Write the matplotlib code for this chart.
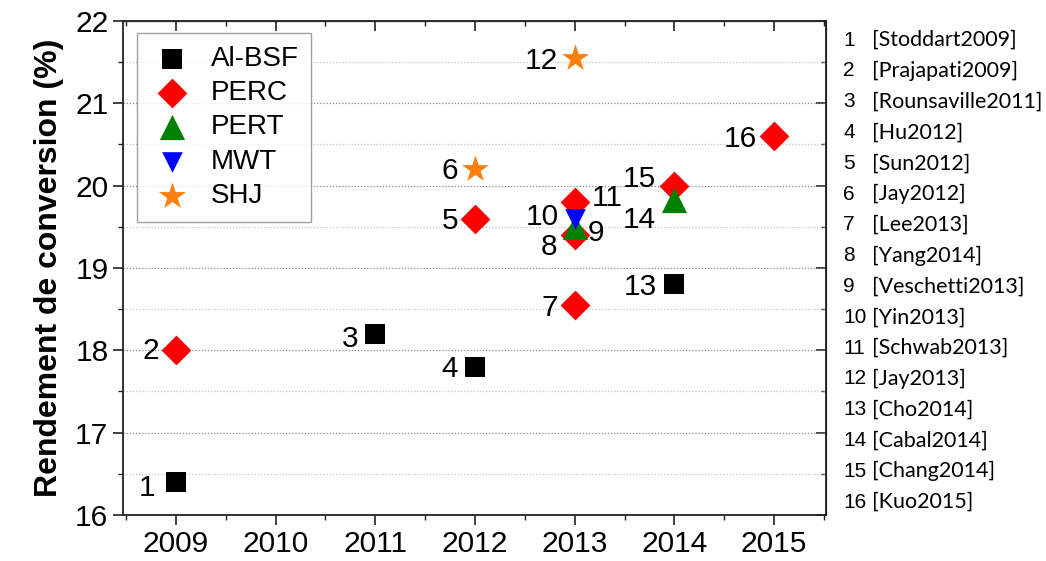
import matplotlib
matplotlib.use("Agg")
import matplotlib.pyplot as plt
from matplotlib.ticker import MultipleLocator

plt.rcParams['font.family'] = ['Liberation Sans', 'DejaVu Sans']

# Cell technologies and their reported efficiencies (%)
technologies = ["Al-BSF", "PERC", "PERT", "MWT", "SHJ"]
tech_styles = {
    "Al-BSF": dict(marker="s", color="black", s=190),
    "PERC": dict(marker="D", color="#ff0000", s=230),
    "PERT": dict(marker="^", color="#008000", s=330),
    "MWT": dict(marker="v", color="#0000ff", s=220),
    "SHJ": dict(marker="*", color="#ff7f0e", s=420),
}

ref_ids = list(range(1, 17))
ref_years = [2009, 2009, 2011, 2012, 2012, 2012, 2013, 2013,
             2013, 2013, 2013, 2013, 2014, 2014, 2014, 2015]
ref_eff = [16.4, 18.0, 18.2, 17.8, 19.6, 20.2, 18.55, 19.4,
           19.5, 19.6, 19.8, 21.55, 18.8, 19.83, 20.0, 20.6]
ref_tech = ["Al-BSF", "PERC", "Al-BSF", "Al-BSF", "PERC", "SHJ", "PERC", "PERC",
            "PERT", "MWT", "PERC", "SHJ", "Al-BSF", "PERT", "PERC", "PERC"]
ref_names = ["Stoddart2009", "Prajapati2009", "Rounsaville2011", "Hu2012",
             "Sun2012", "Jay2012", "Lee2013", "Yang2014", "Veschetti2013",
             "Yin2013", "Schwab2013", "Jay2013", "Cho2014", "Cabal2014",
             "Chang2014", "Kuo2015"]

# label offsets (pixels) relative to each point, with alignment
label_offsets = {
    1: (-20, -6, "right"), 2: (-17, -1, "right"), 3: (-17, -5, "right"),
    4: (-17, -2, "right"), 5: (-17, -2, "right"), 6: (-17, -2, "right"),
    7: (-17, -3, "right"), 8: (-17, -12, "right"), 9: (13, -6, "left"),
    10: (-16, 2, "right"), 11: (17, 4, "left"), 12: (-17, -3, "right"),
    13: (-17, -3, "right"), 14: (-18, -20, "right"), 15: (-18, 7, "right"),
    16: (-17, -3, "right"),
}

fig = plt.figure(figsize=(10.46, 5.61), dpi=100)
ax = fig.add_axes([0.1176, 0.082, 0.672, 0.8806])

draw_order = ["Al-BSF", "PERC", "PERT", "MWT", "SHJ"]
for tech in draw_order:
    xs = [x for x, t in zip(ref_years, ref_tech) if t == tech]
    ys = [y for y, t in zip(ref_eff, ref_tech) if t == tech]
    st = tech_styles[tech]
    ax.scatter(xs, ys, marker=st["marker"], c=st["color"], s=st["s"],
               linewidths=0, label=tech, zorder=3)

for i, x, y in zip(ref_ids, ref_years, ref_eff):
    dx, dy, ha = label_offsets[i]
    ax.annotate(str(i), (x, y), xytext=(dx, dy), textcoords="offset pixels",
                ha=ha, va="center", fontsize=21.5, zorder=4)

ax.set_xlim(2008.47, 2015.52)
ax.set_ylim(16, 22)
ax.xaxis.set_major_locator(MultipleLocator(1))
ax.xaxis.set_minor_locator(MultipleLocator(0.5))
ax.yaxis.set_major_locator(MultipleLocator(1))
ax.yaxis.set_minor_locator(MultipleLocator(0.5))
ax.xaxis.set_major_formatter(plt.FuncFormatter(lambda v, p: f"{int(round(v))}"))

ax.grid(axis="y", which="major", linestyle=(0, (1, 1.5)), color="#888888", linewidth=0.9)
ax.grid(axis="y", which="minor", linestyle=(0, (1, 1.5)), color="#c4c4c4", linewidth=0.9)
ax.set_axisbelow(True)

for sp in ax.spines.values():
    sp.set_linewidth(1.3)
    sp.set_color("#222222")

ax.tick_params(axis="both", which="major", labelsize=21.5, width=1.2, length=7, color="#222222")
ax.tick_params(axis="both", which="minor", width=1.0, length=3.5, color="#222222")
ax.tick_params(axis="y", which="both", direction="out", left=True, right=False)
ax.tick_params(axis="x", which="both", direction="out", bottom=True, top=False)

# mirrored inward ticks on the top and right edges
secx = ax.secondary_xaxis("top")
secx.xaxis.set_major_locator(MultipleLocator(1))
secx.xaxis.set_minor_locator(MultipleLocator(0.5))
secx.tick_params(which="both", direction="in", labeltop=False, color="#222222")
secx.tick_params(which="major", length=7, width=1.2)
secx.tick_params(which="minor", length=3.5, width=1.0)
secy = ax.secondary_yaxis("right")
secy.yaxis.set_major_locator(MultipleLocator(1))
secy.yaxis.set_minor_locator(MultipleLocator(0.5))
secy.tick_params(which="both", direction="in", labelright=False, color="#222222")
secy.tick_params(which="major", length=7, width=1.2)
secy.tick_params(which="minor", length=3.5, width=1.0)

ax.set_ylabel("Rendement de conversion (%)", fontsize=23, fontweight="bold", labelpad=8)

leg = ax.legend(loc="upper left", bbox_to_anchor=(0.02, 0.975), fontsize=20,
                frameon=True, fancybox=False, edgecolor="#888888",
                handletextpad=0.6, borderpad=0.45, labelspacing=0.3,
                scatterpoints=1, handlelength=1.6, borderaxespad=0)
leg.get_frame().set_linewidth(1.0)

# reference list on the right
row_top = 1 - 40 / 561
row_step = 30.8 / 561
for k, (i, name) in enumerate(zip(ref_ids, ref_names)):
    yy = row_top - k * row_step
    fig.text(843 / 1046, yy, str(i), fontsize=15, va="center", ha="left")
    fig.text(872 / 1046, yy, f"[{name}]", fontsize=15.5, va="center", ha="left",
             family=["Lato", "DejaVu Sans"])

fig.savefig("out.png", dpi=100)
